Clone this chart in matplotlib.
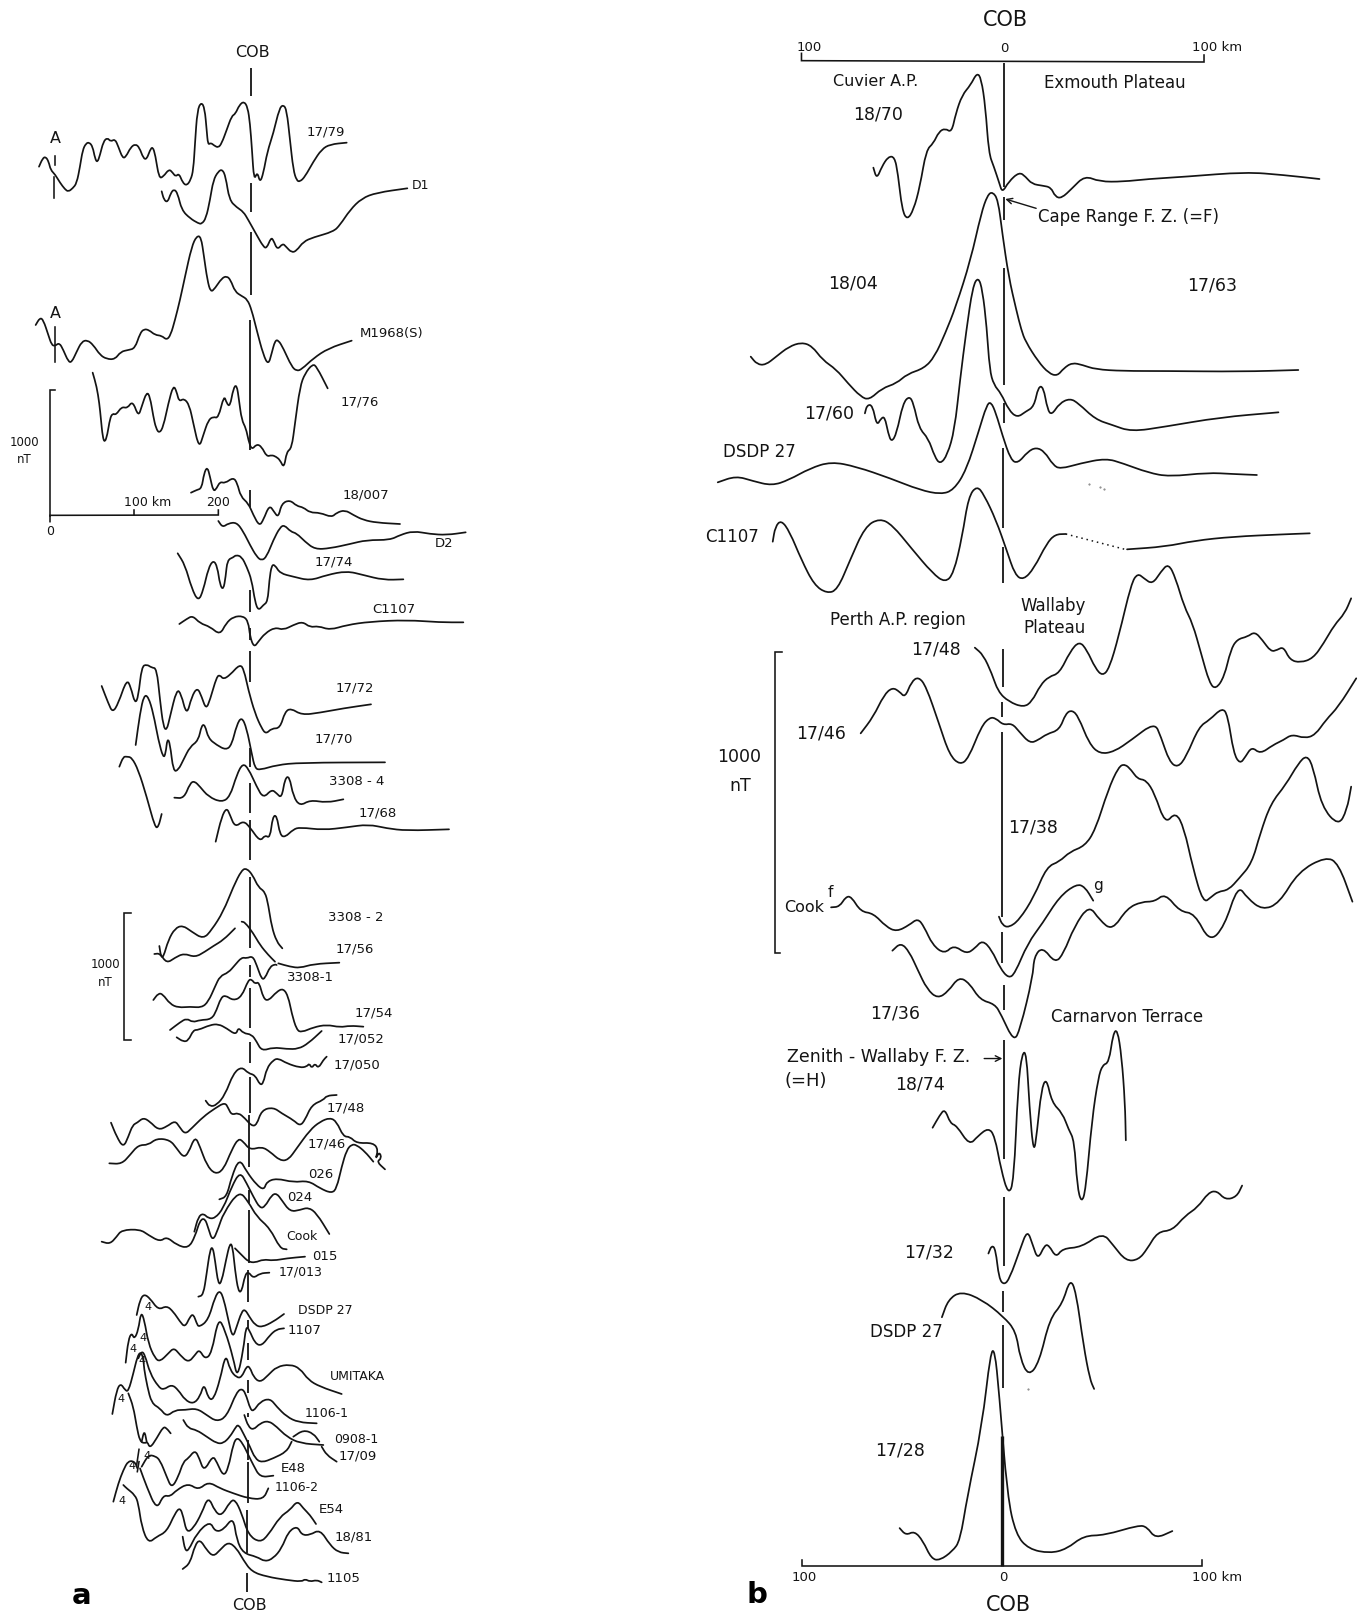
"""Magnetic anomaly profiles across the COB, panels a and b (hand traced)."""
import numpy as np
import matplotlib
matplotlib.use("Agg")
import matplotlib.pyplot as plt
from matplotlib.path import Path
from matplotlib.patches import PathPatch

plt.rcParams["font.family"] = ["DejaVu Sans"]
INK = "#141414"

# values were read off zoomed crops, so every list says which crop it is in:
# crop -> (left, top, x scale, y scale)
CROPS = {
    "z1": (0, 30, 3, 3), "z2": (0, 420, 3, 3), "z3": (60, 850, 3, 3), "z4": (60, 1220, 3, 3),
    "z5": (700, 0, 2.365, 3), "z6": (700, 320, 2.365, 3), "z7": (700, 580, 2.365, 3),
    "z8": (703, 960, 2.365, 2.385),
}

# ---- panel a profiles
a_1779 = [(117,410),(128,385),(137,380),(146,395),(152,420),(165,433),(180,458),(195,478),(205,485),(218,475),(230,460),(240,410),(248,360),(258,340),(268,337),(278,350),(285,385),(292,398),(300,375),(310,335),(322,323),(332,335),(345,327),(355,350),(368,385),(378,380),(392,352),(406,342),(418,352),(430,385),(440,388),(450,360),(458,350),(466,375),(477,445),(490,440),(507,417),(518,428),(527,440),(537,430),(548,458),(560,467),(572,450),(580,420),(585,340),(592,240),(604,216),(614,235),(620,300),(624,345),(632,338),(643,347),(655,353),(665,340),(680,300),(695,258),(706,252),(718,225),(732,214),(743,232),(750,280),(756,360),(762,452),(772,425),(780,458),(790,430),(802,365),(820,310),(838,235),(850,224),(860,240),(870,330),(880,420),(890,452),(900,455),(915,440),(940,395),(965,358),(990,343),(1040,338)]
a_d1 = [(485,484),(492,510),(503,517),(512,490),(522,477),(533,490),(545,540),(570,565),(595,580),(605,582),(618,565),(630,510),(640,450),(655,424),(667,418),(677,440),(688,510),(710,532),(730,545),(745,570),(770,615),(790,650),(800,655),(813,623),(820,630),(832,660),(848,640),(858,650),(875,668),(890,662),(910,635),(940,622),(1000,605),(1020,585),(1050,540),(1085,505),(1130,488),(1222,475)]
a_m1968 = [(107,885),(120,863),(130,870),(145,915),(155,945),(165,948),(178,938),(190,960),(205,995),(215,997),(230,965),(245,935),(262,930),(280,945),(300,975),(320,987),(345,988),(362,965),(385,960),(405,955),(420,910),(432,897),(447,900),(465,915),(485,917),(500,930),(512,915),(525,870),(540,810),(555,740),(575,650),(590,618),(603,620),(612,680),(622,750),(632,787),(645,775),(665,745),(680,738),(692,750),(705,785),(725,798),(742,808),(755,840),(770,900),(790,975),(805,1005),(815,970),(825,932),(835,930),(850,955),(875,1010),(890,1023),(905,1018),(940,985),(985,955),(1055,932)]
a_1776 = [(278,1028),(290,1070),(298,1120),(303,1170),(308,1220),(314,1238),(322,1215),(330,1165),(338,1150),(348,1155),(365,1130),(382,1135),(398,1112),(415,1160),(425,1130),(440,1085),(450,1100),(460,1160),(468,1195),(478,1210),(490,1190),(505,1120),(520,1065),(530,1085),(537,1115),(552,1105),(568,1125),(580,1180),(597,1255),(610,1215),(625,1170),(640,1160),(655,1165),(672,1095),(680,1120),(690,1130),(700,1075),(710,1063),(717,1110),(725,1170),(738,1195),(745,1230),(755,1260),(770,1242),(785,1250),(800,1280),(815,1275),(828,1280),(840,1290),(852,1315),(860,1265),(875,1255),(885,1180),(900,1070),(915,1030),(938,1002),(950,1010),(983,1075)]
a_18007 = [(573,218),(590,210),(605,205),(612,160),(622,140),(630,170),(640,215),(650,205),(660,185),(675,190),(700,172),(712,190),(722,230),(745,250),(760,285),(778,318),(790,300),(808,255),(822,275),(835,293),(845,250),(870,240),(890,258),(910,262),(930,278),(960,278),(995,292),(1010,278),(1035,270),(1060,285),(1090,300),(1130,308),(1200,312)]
a_d2 = [(655,303),(668,322),(685,310),(710,307),(730,335),(750,375),(770,410),(785,422),(800,410),(820,360),(840,322),(853,315),(872,335),(890,340),(915,365),(945,388),(990,385),(1050,372),(1100,360),(1170,360),(1200,345),(1240,333),(1290,342),(1340,345),(1397,337)]
a_1774 = [(533,400),(555,435),(575,505),(595,545),(610,510),(625,445),(640,420),(652,440),(660,495),(670,510),(677,470),(682,420),(700,412),(708,405),(725,410),(740,440),(755,480),(765,545),(775,572),(790,555),(803,545),(808,480),(815,435),(825,435),(840,460),(880,470),(930,482),(980,465),(1040,453),(1090,465),(1150,480),(1210,478)]
a_c1107 = [(538,612),(560,597),(578,587),(600,610),(630,620),(660,645),(678,610),(700,590),(730,588),(745,605),(750,650),(762,682),(775,665),(795,640),(825,622),(850,630),(880,615),(908,605),(930,622),(955,618),(990,630),(1040,615),(1110,605),(1220,600),(1320,607),(1390,607)]
a_1772 = [(305,798),(325,850),(338,878),(355,850),(380,778),(392,800),(405,852),(415,830),(425,740),(440,733),(455,743),(470,745),(480,840),(490,920),(500,932),(510,890),(530,808),(543,820),(560,888),(575,830),(592,802),(605,830),(618,868),(630,840),(650,770),(660,765),(670,778),(690,765),(720,732),(732,750),(745,810),(765,880),(785,925),(798,942),(815,925),(840,925),(855,875),(873,865),(905,885),(960,878),(1030,865),(1113,853)]
a_1770 = [(407,975),(420,880),(432,825),(445,830),(460,880),(475,960),(490,1015),(497,1000),(502,955),(510,970),(520,1055),(535,1050),(550,1020),(570,980),(595,962),(605,915),(615,915),(625,955),(650,975),(678,990),(695,975),(710,915),(725,890),(740,925),(755,1000),(765,1045),(780,1050),(830,1035),(900,1028),(1155,1027)]
a_1770_left = [(358,1040),(370,1010),(380,1010),(395,1012),(415,1050),(440,1130),(465,1222),(475,1222),(485,1182)]
a_330804 = [(523,1133),(552,1135),(570,1090),(583,1083),(600,1100),(625,1130),(665,1147),(690,1130),(710,1065),(728,1030),(745,1045),(770,1100),(790,1135),(815,1108),(830,1120),(845,1135),(855,1075),(868,1068),(880,1130),(900,1158),(930,1140),(980,1148),(1030,1138)]
a_1768 = [(647,1265),(665,1190),(680,1163),(690,1185),(705,1222),(730,1202),(750,1222),(780,1265),(795,1245),(810,1255),(818,1190),(830,1185),(840,1245),(855,1252),(880,1228),(900,1222),(970,1230),(1040,1222),(1105,1213),(1160,1225),(1220,1232),(1347,1228)]

a_330802 = [(298,288),(303,320),(310,322),(325,270),(345,235),(368,226),(395,245),(430,267),(455,240),(490,185),(520,110),(545,60),(560,55),(578,75),(595,112),(615,125),(625,165),(635,230),(650,275),(667,295)]
a_1756_l = [(283,312),(300,310),(320,340),(345,323),(372,310),(405,322),(435,305),(460,288),(490,270),(525,235)]
a_1756_m = [(545,215),(555,217),(580,250),(600,285),(625,315),(645,335)]
a_1756_r = [(655,340),(690,350),(720,354),(760,342),(838,338)]
a_330801 = [(280,450),(295,430),(308,432),(330,462),(355,473),(390,470),(425,473),(445,455),(465,410),(480,378),(505,368),(525,345),(545,322),(560,325),(578,318),(590,345),(605,388),(615,385),(630,350),(645,343),(650,345)]
a_1754 = [(330,540),(360,517),(380,505),(398,517),(420,510),(455,508),(470,480),(482,445),(495,435),(520,452),(545,440),(565,390),(575,388),(585,402),(597,395),(610,445),(625,453),(650,425),(670,415),(685,440),(695,490),(710,540),(725,547),(760,532),(800,524),(840,532),(870,527),(910,530)]
a_17052 = [(350,562),(370,575),(385,572),(400,540),(415,540),(450,525),(475,522),(500,535),(528,555),(535,532),(550,550),(575,553),(590,575),(605,603),(640,592),(680,597),(715,597),(745,580),(785,543)]
a_17050 = [(437,752),(450,770),(470,765),(495,735),(520,670),(545,650),(565,670),(585,675),(600,705),(610,700),(620,655),(640,630),(655,625),(680,640),(720,653),(740,650),(748,640),(755,655),(765,640),(775,655),(790,630),(800,620)]
a_1748 = [(153,818),(170,860),(190,893),(205,860),(218,825),(232,818),(250,803),(270,815),(295,840),(320,830),(345,812),(358,830),(375,853),(395,835),(430,800),(465,775),(495,757),(505,775),(515,795),(535,788),(555,805),(575,828),(590,825),(605,780),(640,772),(665,790),(700,810),(720,828),(735,810),(755,765),(790,750),(800,737),(830,735)]
a_1746 = [(148,940),(185,942),(210,915),(235,885),(265,885),(290,865),(330,870),(350,895),(370,922),(385,910),(405,858),(420,890),(440,945),(465,973),(490,960),(515,900),(535,865),(550,875),(570,900),(605,890),(630,905),(660,932),(685,930),(710,895),(750,840),(780,815),(810,803),(830,815),(850,860),(870,860),(890,880),(940,878),(955,900),(945,930),(958,905),(965,925),(950,935),(975,958)]
a_026 = [(478,1048),(500,1040),(515,980),(538,925),(560,965),(590,1005),(612,1020),(620,995),(650,985),(700,997),(745,992),(780,1015),(815,1030),(830,1015),(845,950),(860,900),(875,883),(890,885),(915,905),(940,935)]
a_024 = [(403,35),(415,-10),(430,-20),(445,-5),(465,-5),(490,-35),(515,-100),(540,-145),(560,-110),(580,-70),(600,-35),(615,-40),(635,-75),(650,-80),(665,-60),(690,-25),(720,-30),(745,-38),(770,-20),(808,42)]
a_cook = [(125,65),(150,72),(170,50),(185,30),(240,28),(265,45),(300,65),(320,50),(350,75),(385,85),(405,50),(420,0),(435,-5),(445,25),(458,65),(475,25),(490,-20),(537,-88),(565,-55),(590,-10),(630,25),(660,85),(680,88)]
a_015 = [(525,85),(545,105),(565,125),(585,128),(610,118),(640,122),(680,115),(735,110)]
a_17013 = [(415,230),(430,225),(440,160),(450,90),(458,80),(465,120),(475,195),(485,185),(498,120),(510,68),(518,80),(525,150),(535,215),(545,215),(555,165),(565,155),(580,175),(600,160),(628,158)]
a_dsdp = [(230,285),(240,240),(252,222),(270,235),(295,270),(320,257),(340,275),(360,305),(375,322),(390,290),(400,282),(410,310),(417,322),(445,300),(465,230),(480,210),(492,240),(505,300),(518,355),(530,320),(545,275),(555,268),(568,290),(585,315),(605,322),(640,305),(672,282)]
a_1107 = [(197,428),(205,360),(215,338),(223,358),(235,330),(243,275),(253,300),(265,370),(285,415),(300,425),(325,400),(342,383),(360,405),(385,428),(405,405),(418,388),(435,418),(455,400),(475,292),(495,330),(520,415),(532,475),(550,390),(558,318),(568,330),(585,370),(605,378),(630,345),(650,328),(672,325)]
a_umitaka = [(235,415),(245,393),(255,405),(270,460),(295,500),(310,510),(335,493),(355,510),(375,540),(400,552),(420,530),(432,490),(445,535),(460,540),(480,480),(497,400),(510,450),(530,473),(545,472),(560,438),(570,442),(580,470),(600,488),(625,465),(650,440),(690,433),(720,445),(745,480),(780,500),(845,522)]
a_11061 = [(157,582),(170,510),(182,490),(195,510),(205,515),(220,460),(232,410),(242,395),(250,415),(252,445),(262,500),(275,550),(300,565),(320,590),(345,570),(375,570),(410,565),(440,585),(470,605),(500,590),(530,515),(548,505),(560,530),(570,565),(580,575),(600,545),(630,535),(650,560),(680,590),(715,607),(770,610)]
a_0908_l = [(205,520),(220,560),(230,620),(240,665),(255,670),(262,665),(270,685),(290,655),(310,620),(320,625),(332,640)]
a_0908_peak = [(245,665),(253,630),(260,665)]
a_0908 = [(553,585),(565,620),(580,630),(600,610),(625,602),(650,620),(680,650),(720,670),(790,675)]
a_1709 = [(370,600),(385,625),(410,630),(440,650),(470,670),(490,670),(510,650),(525,625),(535,612),(550,640),(570,680),(585,715),(605,728),(640,715),(680,695),(695,665)]
a_1709_r = [(700,650),(730,630),(760,640),(778,665)]
a_1709_end = [(785,680),(800,705),(830,725)]
a_e48 = [(245,740),(265,705),(285,708),(300,720),(320,770),(335,805),(355,770),(370,725),(385,715),(405,690),(418,715),(432,755),(458,707),(470,725),(490,770),(505,745),(520,670),(532,652),(548,670),(565,705),(580,735),(600,772),(640,767)]
a_11062 = [(160,845),(175,790),(190,750),(205,722),(225,725),(232,745)]
a_11062_r = [(240,745),(260,800),(290,870),(310,825),(330,830),(350,810),(385,790),(415,810),(445,785),(480,805),(520,820),(565,835),(610,838),(625,805)]
a_e54 = [(190,795),(200,805),(225,825),(235,850),(245,920),(265,970),(290,950),(320,935),(345,880),(360,862),(370,890),(380,938),(400,925),(425,880),(445,828),(465,875),(485,888),(510,845),(525,838),(545,880),(565,945),(600,968),(625,945),(660,890),(690,870),(712,842),(730,865),(750,885),(768,912)]
a_1881 = [(368,950),(375,990),(385,993),(410,940),(450,903),(465,935),(490,930),(520,890),(530,960),(550,1000),(590,1010),(615,1025),(640,1015),(665,985),(685,935),(712,918),(725,945),(750,945),(780,928),(810,975),(835,997),(865,1000)]
a_1105 = [(368,1047),(390,1030),(405,975),(420,958),(440,990),(460,1010),(480,990),(505,965),(530,985),(550,1020),(575,1055),(620,1070),(680,1080),(725,1085),(735,1077),(750,1085),(770,1080),(785,1087)]

# ---- panel b profiles
b_1870 = [(410,503),(418,537),(430,500),(445,470),(460,470),(468,520),(478,630),(490,660),(505,630),(520,560),(535,450),(552,430),(565,395),(580,385),(595,398),(605,340),(620,285),(640,255),(655,218),(665,235),(675,320),(683,460),(695,500),(708,550),(715,578),(730,545),(755,516),(770,530),(785,552),(810,557),(830,562),(840,590),(855,595),(880,565),(910,527),(945,545),(1000,545),(1060,537),(1150,530),(1290,516),(1380,525),(1465,537)]
b_1804 = [(120,1070),(135,1093),(155,1095),(180,1070),(210,1040),(240,1027),(265,1038),(290,1080),(322,1108),(350,1150),(380,1190),(400,1200),(430,1165),(465,1150),(490,1122),(530,1105),(555,1070),(580,1000),(605,920),(640,780),(665,640),(680,585),(692,575),(705,600),(715,700),(730,830),(748,930),(760,990),(770,1025),(800,1085),(825,1120),(845,1128),(860,1105),(880,1088),(905,1095),(935,1108),(1000,1113),(1100,1113),(1280,1115),(1415,1110)]
b_1760 = [(390,1240),(395,1215),(408,1215),(418,1278),(428,1255),(437,1250),(445,1300),(453,1327),(465,1300),(480,1210),(495,1188),(505,1210),(518,1285),(540,1315),(555,1370),(568,1393),(585,1365),(602,1290),(615,1140),(630,990),(645,860),(658,830),(668,870),(678,980),(685,1110),(695,1155),(712,1180),(730,1230),(750,1253),(770,1235),(790,1220),(800,1160),(812,1160),(822,1230),(832,1245),(850,1210),(875,1195),(895,1210),(935,1258),(975,1275),(1020,1295),(1100,1280),(1230,1252),(1368,1237)]
b_dsdp = [(42,487),(85,468),(125,483),(170,497),(210,480),(260,445),(310,425),(370,440),(450,475),(520,510),(570,523),(600,510),(630,450),(660,330),(678,255),(688,245),(700,280),(715,345),(735,420),(752,430),(775,395),(795,382),(815,395),(835,435),(852,447),(900,430),(960,415),(1000,430),(1060,458),(1110,470),(1200,458),(1260,462),(1317,465)]
b_c1107 = [(172,665),(178,620),(192,600),(212,635),(240,720),(270,795),(300,820),(325,810),(355,720),(390,620),(425,595),(455,615),(500,685),(550,760),(580,788),(600,760),(620,650),(635,530),(655,497),(672,525),(700,600),(725,690),(745,765),(765,780),(790,745),(820,670),(840,643),(865,642)]
b_c1107_gap = [(865,642),(1005,688)]
b_c1107_r = [(1010,688),(1100,680),(1170,662),(1260,650),(1380,643),(1442,640)]
b_1748 = [(650,203),(670,225),(690,280),(705,335),(730,365),(765,382),(785,365),(805,315),(825,290),(850,280),(875,215),(897,183),(915,210),(935,265),(952,288),(968,265),(990,170),(1020,10),(1035,-20),(1050,-5),(1070,13),(1090,-25),(1108,-50),(1125,-5),(1145,80),(1165,130),(1185,220),(1205,310),(1220,328),(1240,290),(1255,210),(1270,178),(1295,170),(1312,155),(1330,180),(1350,215),(1365,210),(1380,200),(1395,240),(1420,248),(1450,235),(1475,190),(1500,135),(1525,100),(1540,55)]
b_1746 = [(380,460),(410,410),(435,345),(455,322),(472,335),(485,353),(500,305),(517,290),(535,320),(565,430),(590,525),(615,555),(635,535),(665,440),(685,412),(700,415),(717,435),(738,430),(755,455),(780,490),(800,480),(820,462),(850,450),(865,400),(880,390),(895,410),(920,490),(945,522),(980,515),(1020,480),(1075,427),(1090,470),(1110,545),(1130,563),(1150,530),(1180,440),(1205,420),(1235,383),(1248,405),(1262,520),(1277,552),(1290,530),(1305,500),(1325,522),(1355,495),(1380,480),(1400,463),(1430,475),(1455,465),(1480,420),(1510,380),(1552,295)]
b_1738 = [(707,1010),(715,1035),(730,1043),(755,1020),(790,950),(820,860),(850,845),(875,815),(910,798),(935,750),(965,630),(990,560),(1005,552),(1020,570),(1035,597),(1055,600),(1075,640),(1100,733),(1125,695),(1145,745),(1165,860),(1190,970),(1210,950),(1225,935),(1250,930),(1275,895),(1305,850),(1325,760),(1350,670),(1385,615),(1415,550),(1435,525),(1450,560),(1470,680),(1510,738),(1530,690),(1540,620)]
b_cook = [(310,982),(330,980),(345,950),(358,950),(380,995),(410,1000),(440,1040),(465,1055),(495,1035),(515,1015),(530,1040),(550,1095),(578,1122),(600,1095),(630,1122),(650,1105),(668,1080),(690,1110),(710,1165),(730,1195),(745,1180),(775,1090),(810,1030),(850,950),(890,912),(910,920),(930,962)]
b_1736_l = [(455,1112),(475,1088),(495,1115),(515,1170)]
b_1736_m = [(530,70),(555,92),(580,75),(605,40),(630,55),(655,95),(690,105),(705,130),(735,195),(750,165),(780,40)]
b_1736_r = [(790,1130),(810,1100),(840,1150),(860,1120),(885,1040),(920,975),(945,1020),(975,1052),(1010,985),(1045,965),(1075,965),(1100,940),(1135,995),(1170,1000),(1205,1087),(1240,1040),(1272,915),(1295,955),(1330,990),(1370,970),(1415,875),(1480,830),(1510,850),(1543,965)]
b_1874 = [(543,400),(560,370),(572,355),(585,390),(600,395),(630,442),(650,420),(675,400),(690,420),(705,500),(722,560),(735,530),(745,300),(755,220),(765,222),(772,350),(782,465),(790,410),(800,310),(812,280),(825,340),(850,365),(865,405),(878,430),(885,540),(895,580),(905,550),(920,380),(935,280),(945,250),(960,245),(970,175),(980,165),(990,230),(998,340),(1000,430)]
b_1732 = [(675,700),(683,680),(692,690),(700,760),(712,775),(725,760),(750,690),(767,643),(780,680),(792,715),(808,680),(818,680),(835,710),(850,688),(895,685),(945,650),(970,680),(1000,718),(1030,715),(1050,690),(1075,648),(1110,645),(1140,610),(1170,590),(1195,555),(1215,550),(1235,572),(1262,565),(1275,538)]
b_dsdp2 = [(565,852),(580,810),(610,790),(660,810),(710,850),(740,885),(750,950),(770,993),(795,960),(820,855),(850,820),(868,760),(882,790),(900,920),(915,1000),(925,1023)]
b_1728 = [(465,1355),(480,1372),(500,1362),(520,1385),(540,1428),(560,1432),(590,1410),(608,1385),(625,1280),(660,1110),(680,935),(690,930),(700,1030),(720,1280),(740,1370),(770,1405),(820,1415),(860,1405),(900,1373),(950,1372),(1030,1348),(1050,1352),(1070,1380),(1110,1362)]

# each profile is one or more (crop, points) pieces joined into one pen line
PROFILES = [
    [("z1", a_1779)], [("z1", a_d1)], [("z1", a_m1968)], [("z1", a_1776)],
    [("z2", a_18007)], [("z2", a_d2)], [("z2", a_1774)], [("z2", a_c1107)], [("z2", a_1772)], [("z2", a_1770)],
    [("z2", a_1770_left)], [("z2", a_330804)], [("z2", a_1768)],
    [("z3", a_330802)], [("z3", a_1756_l)], [("z3", a_1756_m)], [("z3", a_1756_r)], [("z3", a_330801)],
    [("z3", a_1754)], [("z3", a_17052)], [("z3", a_17050)], [("z3", a_1748)], [("z3", a_1746)], [("z3", a_026)],
    [("z4", a_024)], [("z4", a_cook)], [("z4", a_015)], [("z4", a_17013)], [("z4", a_dsdp)], [("z4", a_1107)],
    [("z4", a_umitaka)], [("z4", a_11061)], [("z4", a_0908_l)], [("z4", a_0908_peak)], [("z4", a_0908)],
    [("z4", a_1709)], [("z4", a_1709_r)], [("z4", a_1709_end)], [("z4", a_e48)], [("z4", a_11062)],
    [("z4", a_11062_r)], [("z4", a_e54)], [("z4", a_1881)], [("z4", a_1105)],
    [("z5", b_1870)], [("z5", b_1804)], [("z5", b_1760)], [("z6", b_dsdp)], [("z6", b_c1107)], [("z6", b_c1107_r)],
    [("z7", b_1748)], [("z7", b_1746)], [("z7", b_1738)], [("z7", b_cook)],
    [("z7", b_1736_l), ("z8", b_1736_m), ("z7", b_1736_r)],
    [("z8", b_1874)], [("z8", b_1732)], [("z8", b_dsdp2)], [("z8", b_1728)],
]

# COB marks, dashes and scale bars: crop, x, y from, y to
COB_DASHES = [
    ("z1",753,113,198), ("z1",752,460,545), ("z1",752,605,795), ("z1",750,870,1260),
    ("z2",750,210,262), ("z2",750,510,575), ("z2",750,625,660), ("z2",750,692,785),
    ("z2",750,985,1040), ("z2",750,1090,1180), ("z2",750,1200,1320),
    ("z3",570,80,295), ("z3",570,345,380), ("z3",570,415,535), ("z3",570,575,640),
    ("z3",570,680,790), ("z3",568,795,950), ("z3",567,1020,1060),
    ("z4",567,-30,130), ("z4",565,150,245), ("z4",565,300,325), ("z4",565,370,420), ("z4",565,480,520),
    ("z4",563,580,590), ("z4",563,660,720), ("z4",563,725,850), ("z4",560,870,1000), ("z4",560,1060,1115),
    ("z5",720,188,560), ("z5",720,590,660), ("z5",718,805,1155),
    ("z6",718,250,310), ("z6",717,385,625), ("z6",716,680,790),
    ("z7",716,207,320), ("z7",715,365,410), ("z7",715,455,1010), ("z7",715,1055,1150),
    ("z8",712,60,120), ("z8",713,190,475), ("z8",712,565,730), ("z8",710,790,840), ("z8",710,870,1020),
]
COB_HEAVY = [("z8",708,1135,1445)]

FRAME_LINES = [
    ("z1", [(165,1080),(150,1080),(150,1458)]),        # 1000 nT bar, panel a upper
    ("z2", [(150,305),(150,286),(655,285),(655,270)]), # km bar
    ("z2", [(403,270),(403,286)]),
    ("z3", [(213,188),(193,188),(193,570),(213,570)]), # 1000 nT bar, panel a lower
    ("z1", [(163,440),(163,505)]), ("z1", [(164,378),(164,405)]), ("z1", [(164,890),(164,997)]),
    ("z4", [(237,688),(230,735)]), ("z4", [(237,725),(232,755)]),
    ("z5", [(240,160),(240,182),(1192,186),(1192,165)]),
    ("z7", [(195,217),(178,217),(178,1118),(190,1118)]),
    ("z8", [(235,1430),(235,1445),(1180,1445),(1180,1430)]),
]

# text: crop, x, y, string, size
LABELS = [
    ("z1",756,70,"COB",11.5), ("z1",167,328,"A",11.5), ("z1",167,853,"A",11.5), ("z1",978,308,"17/79",9.5),
    ("z1",1262,468,"D1",9), ("z1",1175,913,"M1968(S)",9.5), ("z1",1080,1118,"17/76",9.5),
    ("z2",73,70,"1000",8.5), ("z2",73,120,"nT",8.5), ("z2",443,248,"100 km",9), ("z2",655,248,"200",9),
    ("z2",150,337,"0",9), ("z2",1097,225,"18/007",9.5), ("z2",1333,372,"D2",9.5), ("z2",1000,427,"17/74",9.5),
    ("z2",1180,570,"C1107",9.5), ("z2",1063,806,"17/72",9.5), ("z2",1002,960,"17/70",9.5),
    ("z2",1070,1087,"3308 - 4",9.5), ("z2",1133,1180,"17/68",9.5),
    ("z3",888,205,"3308 - 2",9.5), ("z3",885,300,"17/56",9.5), ("z3",750,383,"3308-1",9.5),
    ("z3",942,492,"17/54",9.5), ("z3",902,570,"17/052",9.5), ("z3",890,645,"17/050",9.5),
    ("z3",857,775,"17/48",9.5), ("z3",800,883,"17/46",9.5), ("z3",782,975,"026",9.5), ("z3",720,1045,"024",9.5),
    ("z3",135,345,"1000",8.5), ("z3",135,400,"nT",8.5),
    ("z4",725,52,"Cook",9), ("z4",793,112,"015",9.5), ("z4",722,158,"17/013",9), ("z4",797,273,"DSDP 27",9),
    ("z4",733,332,"1107",9.5), ("z4",893,470,"UMITAKA",9), ("z4",800,582,"1106-1",9), ("z4",888,660,"0908-1",9),
    ("z4",892,710,"17/09",9.5), ("z4",700,748,"E48",9.5), ("z4",710,803,"1106-2",9), ("z4",813,870,"E54",9.5),
    ("z4",880,952,"18/81",9.5), ("z4",850,1078,"1105",9.5), ("z4",567,1158,"COB",11.5),
    ("z4",265,265,"4",8), ("z4",248,358,"4",8), ("z4",220,390,"4",8), ("z4",245,425,"4",8),
    ("z4",183,540,"4",8), ("z4",260,712,"4",8), ("z4",215,742,"4",8), ("z4",187,845,"4",8),
    ("z5",722,55,"COB",15), ("z5",258,143,"100",9.5), ("z5",720,148,"0",9.5), ("z5",1222,145,"100 km",9.5),
    ("z5",415,247,"Cuvier A.P.",11.5), ("z5",980,249,"Exmouth Plateau",12), ("z5",420,343,"18/70",12.5),
    ("z5",1013,652,"Cape Range F. Z. (=F)",12), ("z5",362,852,"18/04",12.5), ("z5",1212,857,"17/63",12.5),
    ("z6",305,280,"17/60",12.5), ("z6",140,397,"DSDP 27",12), ("z6",75,652,"C1107",12),
    ("z6",468,900,"Perth A.P. region",12), ("z6",835,857,"Wallaby",12), ("z6",838,925,"Plateau",12),
    ("z7",557,210,"17/48",12.5), ("z7",287,460,"17/46",12.5), ("z7",93,530,"1000",12.5), ("z7",95,617,"nT",12.5),
    ("z7",787,742,"17/38",12.5), ("z7",247,985,"Cook",11.5), ("z7",308,940,"f",11), ("z7",942,918,"g",11),
    ("z8",455,128,"17/36",12.5), ("z8",1002,137,"Carnarvon Terrace",12), ("z8",415,232,"Zenith - Wallaby F. Z.",12.5),
    ("z8",243,288,"(=H)",13), ("z8",513,298,"18/74",12.5), ("z8",535,698,"17/32",12.5), ("z8",480,888,"DSDP 27",12),
    ("z8",465,1170,"17/28",12.5), ("z8",240,1475,"100",9.5), ("z8",710,1475,"0",9.5), ("z8",1215,1475,"100 km",9.5),
    ("z8",722,1533,"COB",15),
]
PANEL_TAGS = [("z4",65,1128,"a"), ("z8",127,1515,"b")]
ARROWS = [("z5",795,625,722,597), ("z8",665,235,708,235)]
SPECKS = [("z6",920,492), ("z6",945,502), ("z6",955,507), ("z8",768,1023)]


def to_px(crop, pts):
    left, top, sx, sy = CROPS[crop]
    pts = np.asarray(pts, dtype=float)
    return np.column_stack([left + pts[:, 0] / sx, top + pts[:, 1] / sy])


def draw_profile(ax, xy, lw=1.25):
    # quadratic segments through the midpoints keep the pen line round
    mids = (xy[:-1] + xy[1:]) / 2
    verts, codes = [xy[0], mids[0]], [Path.MOVETO, Path.LINETO]
    for ctrl, end in zip(xy[1:-1], mids[1:]):
        verts += [ctrl, end]
        codes += [Path.CURVE3, Path.CURVE3]
    verts.append(xy[-1])
    codes.append(Path.LINETO)
    ax.add_patch(PathPatch(Path(np.array(verts), codes), fill=False, ec=INK, lw=lw,
                           joinstyle="round", capstyle="round"))


fig = plt.figure(figsize=(13.65, 16.14), dpi=100, facecolor="white")
ax = fig.add_axes([0, 0, 1, 1])
ax.set_xlim(0, 1365)
ax.set_ylim(1614, 0)
ax.axis("off")

for pieces in PROFILES:
    draw_profile(ax, np.vstack([to_px(crop, pts) for crop, pts in pieces]))

gap = to_px("z6", b_c1107_gap)
ax.plot(gap[:, 0], gap[:, 1], color=INK, lw=1.1, ls=(0, (1, 2.5)))

for crop, pts in FRAME_LINES:
    xy = to_px(crop, pts)
    ax.plot(xy[:, 0], xy[:, 1], color=INK, lw=1.15, solid_joinstyle="miter")

for rows, lw in ((COB_DASHES, 1.3), (COB_HEAVY, 2.4)):
    for crop, x, y0, y1 in rows:
        xy = to_px(crop, [(x, y0), (x, y1)])
        ax.plot(xy[:, 0], xy[:, 1], color=INK, lw=lw, solid_capstyle="butt")

for crop, x, y in SPECKS:
    xy = to_px(crop, [(x, y)])
    ax.plot(xy[:, 0], xy[:, 1], ".", color="#777777", ms=1)

for crop, x0, y0, x1, y1 in ARROWS:
    a, b = to_px(crop, [(x0, y0), (x1, y1)])
    ax.annotate("", xy=b, xytext=a, arrowprops=dict(arrowstyle="->", color=INK, lw=1.0,
                                                    shrinkA=0, shrinkB=0, mutation_scale=10))

for crop, x, y, s, size in LABELS:
    (px, py), = to_px(crop, [(x, y)])
    # the big COB captions sit right, the rest read about 2 px low
    ax.text(px, py - (2 if size < 14 else 0), s, fontsize=size, color=INK, ha="center", va="center_baseline")

for crop, x, y, s in PANEL_TAGS:
    (px, py), = to_px(crop, [(x, y)])
    ax.text(px, py, s, fontsize=21, fontweight="bold", color="black", ha="center", va="center")

plt.savefig("out.png", dpi=100)
